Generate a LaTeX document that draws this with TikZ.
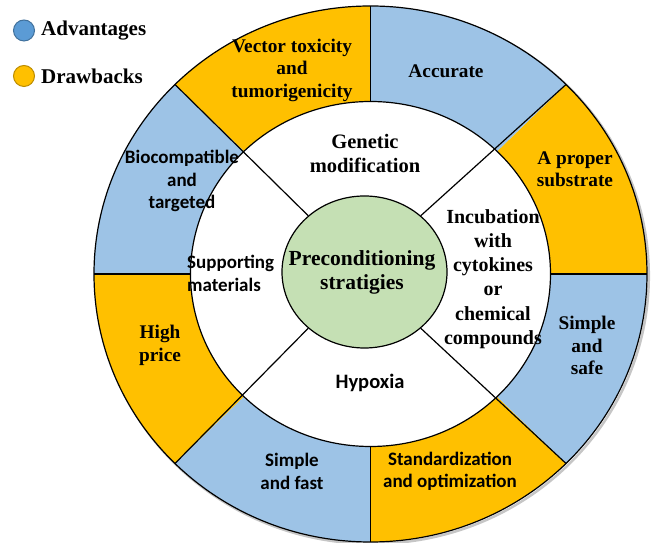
\documentclass[tikz,border=0pt]{standalone}
\usepackage{fontspec}
\setmainfont{Liberation Serif}
\newfontfamily\calfont{Carlito}
\usetikzlibrary{shapes.geometric,calc}
\definecolor{goldfill}{HTML}{FFC000}
\definecolor{bluefill}{HTML}{9DC3E6}
\definecolor{greenfill}{HTML}{C5E0B4}
\definecolor{legblue}{HTML}{5B9BD5}
\definecolor{legblueedge}{HTML}{41719C}
\definecolor{leggoldedge}{HTML}{BC8C00}

\begin{document}
\begin{tikzpicture}[x=1pt,y=1pt,
  serif/.style={font=\fontsize{19.3}{22.5}\selectfont\bfseries, align=center, inner sep=0pt},
  bigserif/.style={font=\fontsize{20.5}{24}\selectfont\bfseries, align=center, inner sep=0pt},
  sans/.style={font=\fontsize{19}{22.5}\selectfont\calfont\bfseries, align=center, inner sep=0pt},
  legtext/.style={font=\fontsize{21}{24}\selectfont\bfseries, anchor=west, inner sep=0pt},
  legdot/.style={circle, minimum size=21pt, inner sep=0pt, line width=1pt},
  edge/.style={line width=1.2pt, black}]
\useasboundingbox (0,0) rectangle (651,543);

% ring geometry
\coordinate (C) at (370.5,269);
\def\Rx{276.5}\def\Ry{268}
\def\rx{180}\def\ry{172.5}

% soft shadow of the outer ring
\draw[gray!45, line width=2.5pt] ($(C)+(1.8,-1.8)$) ellipse[x radius=\Rx pt, y radius=\Ry pt];

% outer ring: alternating advantages / drawbacks
\foreach \a/\col in {0/goldfill,45/bluefill,90/goldfill,135/bluefill,180/goldfill,225/bluefill,270/goldfill,315/bluefill}
  \fill[\col] (C) -- ($(C)+(\a:\Rx pt and \Ry pt)$)
    arc[start angle=\a, delta angle=45, x radius=\Rx pt, y radius=\Ry pt] -- cycle;
\draw[edge] (C) ellipse[x radius=\Rx pt, y radius=\Ry pt];

% middle ring: strategies
\draw[edge, fill=white] (C) ellipse[x radius=\rx pt, y radius=\ry pt];

% centre
\node[ellipse, draw, line width=1.2pt, fill=greenfill, minimum width=165pt, minimum height=152pt, inner sep=0pt] (core) at (364.5,271) {};

% dividers
\foreach \a in {0,90,180,270}
  \draw[edge] ($(C)+(\a:\rx pt and \ry pt)$) -- ($(C)+(\a:\Rx pt and \Ry pt)$);
\foreach \a in {45,135,225,315}
  \draw[edge] (core.\a) -- ($(C)+(\a:\Rx pt and \Ry pt)$);

% legend
\node[legdot, fill=legblue, draw=legblueedge] (advdot) at (24,512.5) {};
\node[legtext] (advtext) at (41,512) {Advantages};
\node[legdot, fill=goldfill, draw=leggoldedge] (drwdot) at (24,467) {};
\node[legtext] (drwtext) at (41,466.5) {Drawbacks};

% outer ring labels
\node[serif] (vector) at (292,473) {Vector toxicity\\and\\tumorigenicity};
\node[serif] (accurate) at (446,472) {Accurate};
\node[serif] (substrate) at (575,373.5) {A proper\\substrate};
\node[sans] (biocomp) at (182,362) {Biocompatible\\and\\targeted};
\node[serif] (price) at (160,197.5) {High\\price};
\node[serif] (safe) at (587,197.5) {Simple\\and\\safe};
\node[sans] (fast) at (292,71.5) {Simple\\and fast};
\node[sans] (standard) at (450,71.5) {Standardization\\and optimization};

% middle ring labels
\node[bigserif] (genetic) at (365,390) {Genetic\\modification};
\node[serif, font=\fontsize{20}{24.3}\selectfont\bfseries] (incub) at (493,264) {Incubation\\with\\cytokines\\or\\chemical\\compounds};
\node[sans, align=left, anchor=west] (support) at (187,269.5) {Supporting\\materials};
\node[sans, font=\fontsize{20.5}{24}\selectfont\calfont\bfseries] (hypoxia) at (370,160) {Hypoxia};

% centre label
\node[bigserif, font=\fontsize{21.5}{24}\selectfont\bfseries] (precond) at (362,271) {Preconditioning\\stratigies};
\end{tikzpicture}
\end{document}
